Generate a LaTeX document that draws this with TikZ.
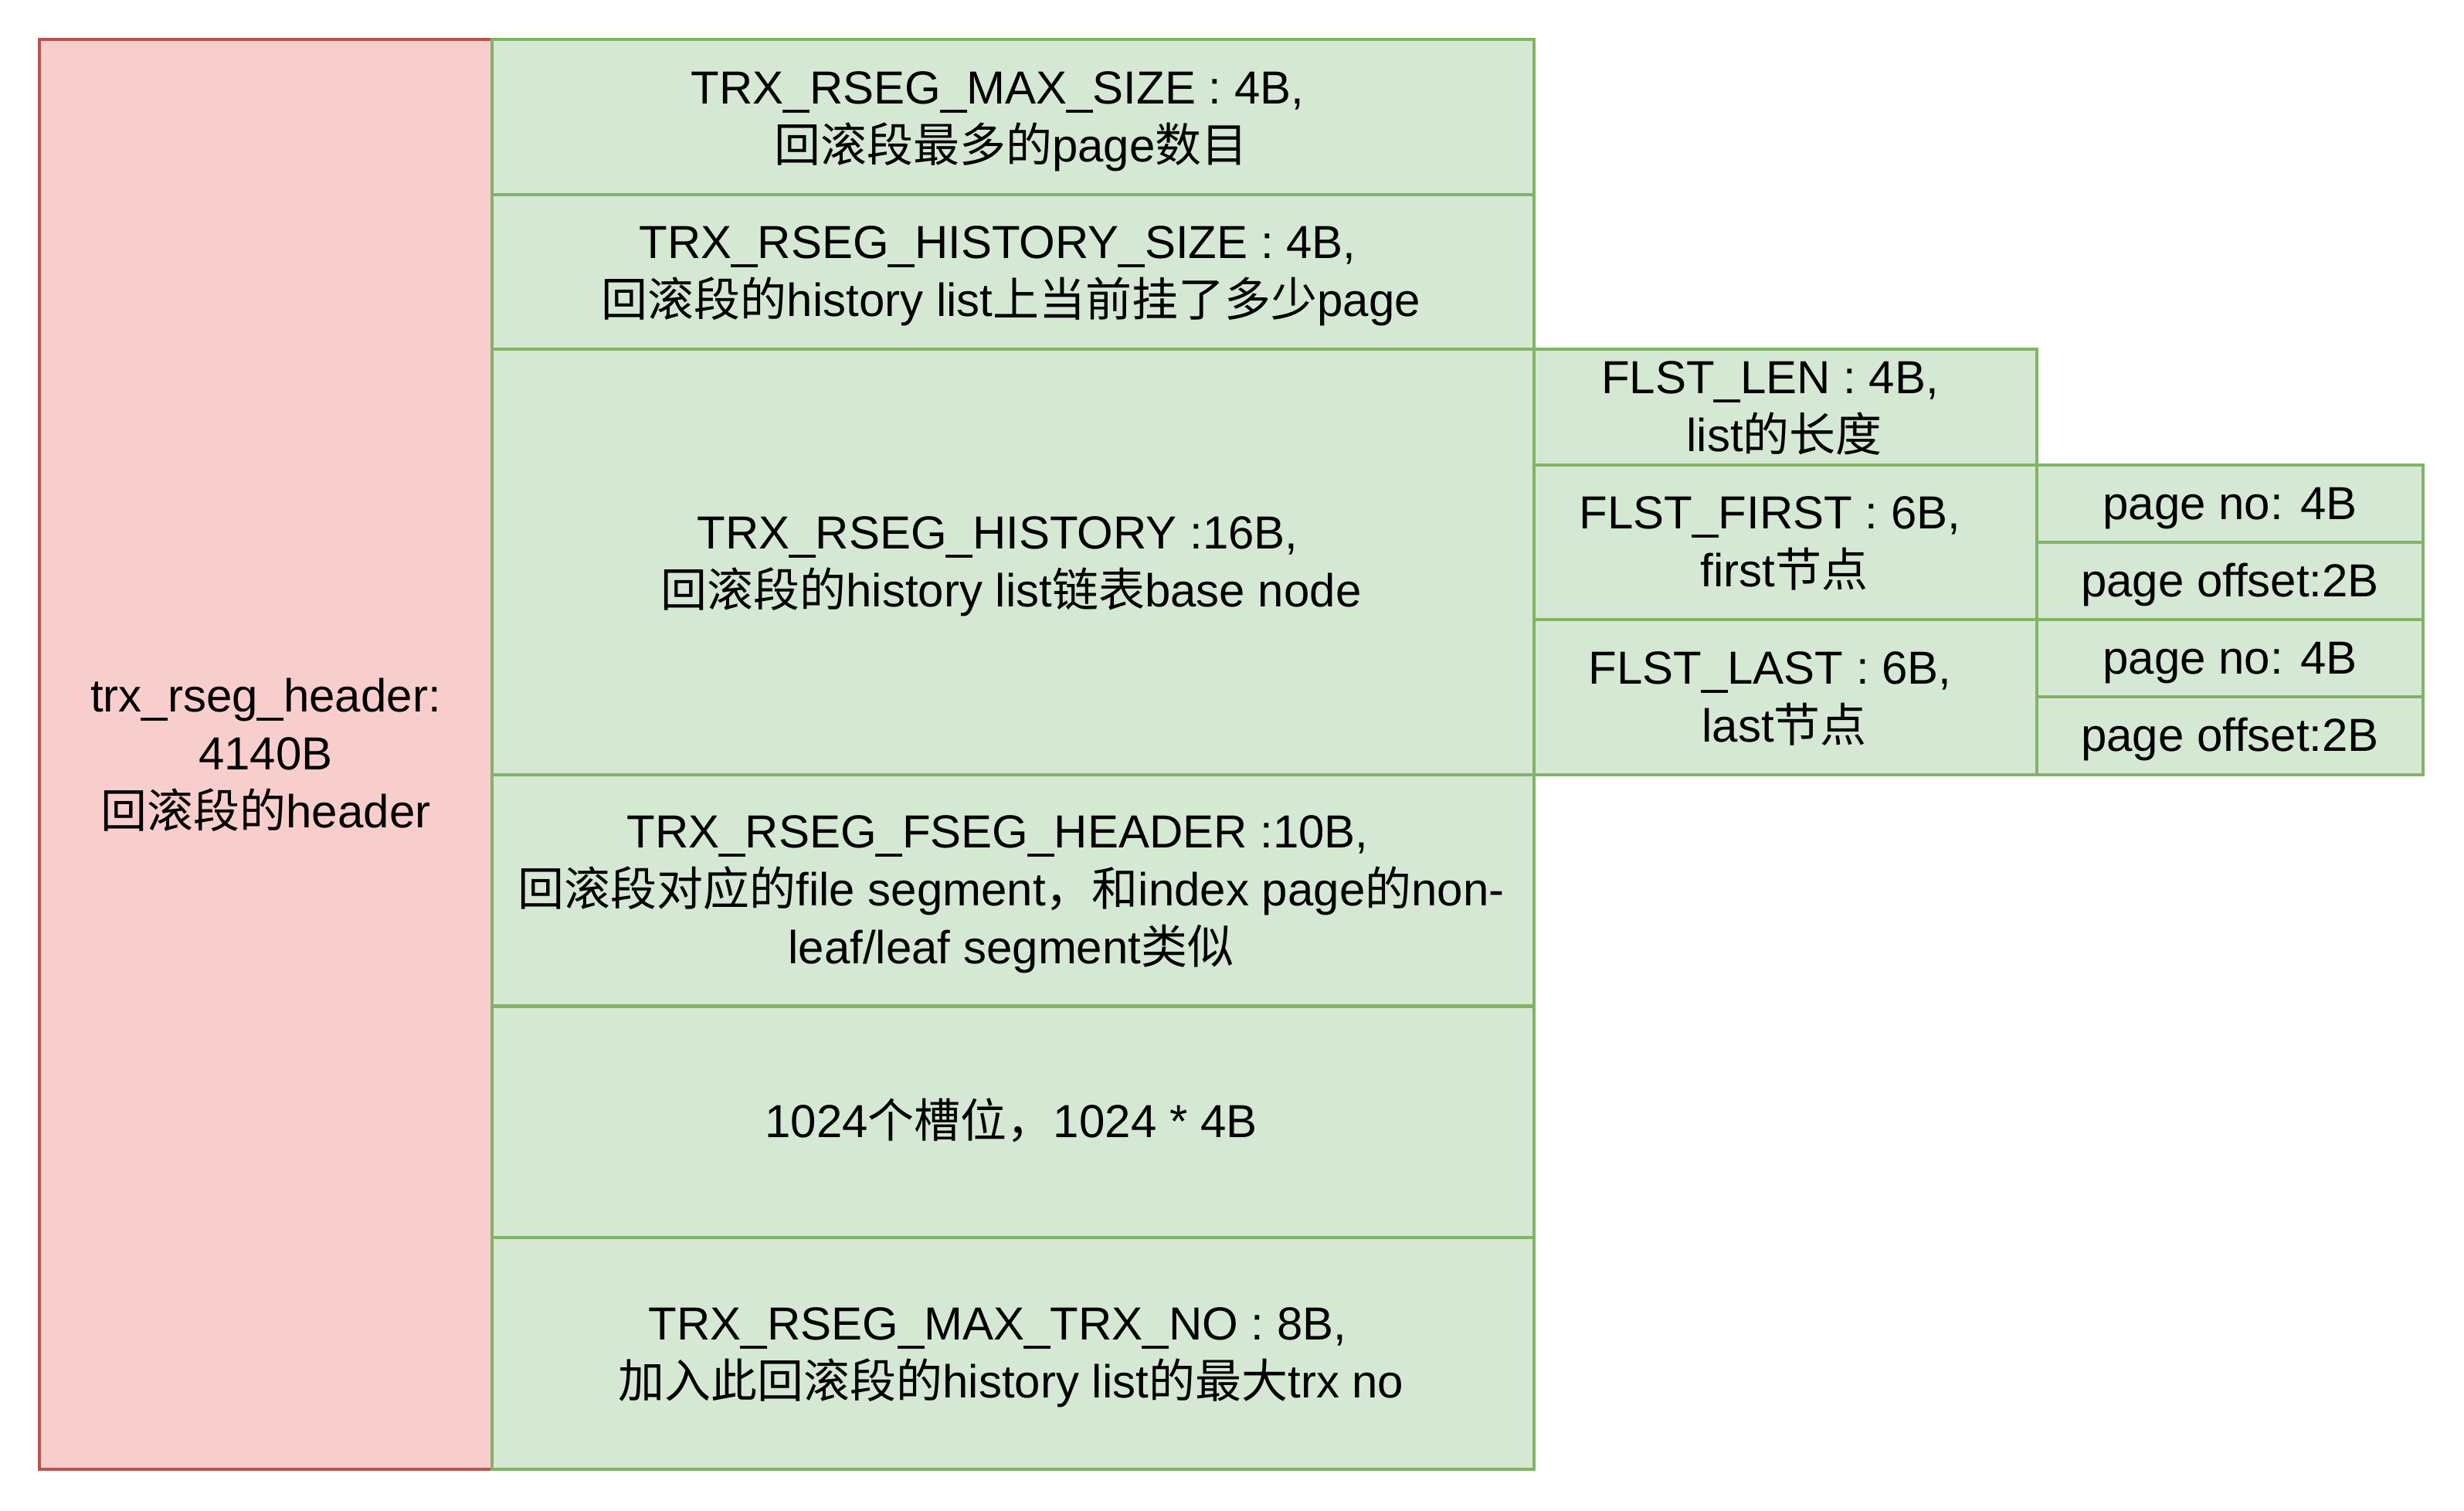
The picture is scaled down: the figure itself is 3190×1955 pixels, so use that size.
\documentclass[tikz,border=0pt]{standalone}
\usepackage{fontspec}
\setmainfont{Liberation Sans}
\newfontfamily\cjk{Noto Sans CJK SC}
\definecolor{redfill}{HTML}{F8CECC}
\definecolor{redline}{HTML}{B85450}
\definecolor{greenfill}{HTML}{D5E8D4}
\definecolor{greenline}{HTML}{82B366}
\begin{document}
\begin{tikzpicture}[x=0.5pt,y=-0.5pt,
  cell/.style={rectangle, inner sep=0pt, line width=2.2pt},
  redcell/.style={cell, draw=redline, fill=redfill},
  greencell/.style={cell, draw=greenline, fill=greenfill},
  txt/.style={anchor=base, inner sep=0pt, text=black, font=\fontsize{30pt}{37.5pt}\selectfont}]
\useasboundingbox (0,0) rectangle (3190,1955);
% cells
\node[redcell, minimum width=293pt, minimum height=925.5pt] (hdr) at (344,976.5) {};
\node[greencell, minimum width=674.5pt, minimum height=100.5pt] (maxsize) at (1311.5,151.5) {};
\node[greencell, minimum width=674.5pt, minimum height=100pt] (hsize) at (1311.5,352) {};
\node[greencell, minimum width=674.5pt, minimum height=275.5pt] (hist) at (1311.5,727.5) {};
\node[greencell, minimum width=674.5pt, minimum height=149.5pt] (fseg) at (1311.5,1152.5) {};
\node[greencell, minimum width=674.5pt, minimum height=149.75pt] (slots) at (1311.5,1452.25) {};
\node[greencell, minimum width=674.5pt, minimum height=150pt] (maxtrx) at (1311.5,1752) {};
\node[greencell, minimum width=325.5pt, minimum height=75pt] (flen) at (2311.5,527) {};
\node[greencell, minimum width=325.5pt, minimum height=100pt] (ffirst) at (2311.5,702) {};
\node[greencell, minimum width=325.5pt, minimum height=100.5pt] (flast) at (2311.5,902.5) {};
\node[greencell, minimum width=250pt, minimum height=50pt] (fpno) at (2887,652) {};
\node[greencell, minimum width=250pt, minimum height=50pt] (fpoff) at (2887,752) {};
\node[greencell, minimum width=250pt, minimum height=50pt] (lpno) at (2887,852) {};
\node[greencell, minimum width=250pt, minimum height=50.5pt] (lpoff) at (2887,952.5) {};
% texts
\node[txt] (hdr-a) at (344,921.5) {trx\_rseg\_header:};
\node[txt] (hdr-b) at (344,996.5) {4140B};
\node[txt] (hdr-c) at (344,1071.5) {{\cjk 回滚段的}header};
\node[txt] (maxsize-a) at (1291.5,134) {TRX\_RSEG\_MAX\_SIZE : 4B,};
\node[txt] (maxsize-b) at (1309,209) {{\cjk 回滚段最多的}page{\cjk 数目}};
\node[txt] (hsize-a) at (1291.5,334.5) {TRX\_RSEG\_HISTORY\_SIZE : 4B,};
\node[txt] (hsize-b) at (1309,409.5) {{\cjk 回滚段的}history list{\cjk 上当前挂了多少}page};
\node[txt] (hist-a) at (1291.5,710) {TRX\_RSEG\_HISTORY :16B,};
\node[txt] (hist-b) at (1309,785) {{\cjk 回滚段的}history list{\cjk 链表}base node};
\node[txt] (fseg-a) at (1291.5,1097.5) {TRX\_RSEG\_FSEG\_HEADER :10B,};
\node[txt] (fseg-b) at (1309,1172.5) {{\cjk 回滚段对应的}file segment{\cjk ，和}index page{\cjk 的}non-};
\node[txt] (fseg-c) at (1309,1247.5) {leaf/leaf segment{\cjk 类似}};
\node[txt] (slots-a) at (1309,1472) {1024{\cjk 个槽位，}1024 * 4B};
\node[txt] (maxtrx-a) at (1291.5,1734.5) {TRX\_RSEG\_MAX\_TRX\_NO : 8B,};
\node[txt] (maxtrx-b) at (1309,1809.5) {{\cjk 加入此回滚段的}history list{\cjk 的最大}trx no};
\node[txt] (flen-a) at (2291.5,509.5) {FLST\_LEN : 4B,};
\node[txt] (flen-b) at (2310,584.5) {list{\cjk 的长度}};
\node[txt] (ffirst-a) at (2291.5,684.5) {FLST\_FIRST : 6B,};
\node[txt] (ffirst-b) at (2310,759.5) {first{\cjk 节点}};
\node[txt] (flast-a) at (2291.5,885) {FLST\_LAST : 6B,};
\node[txt] (flast-b) at (2310,960) {last{\cjk 节点}};
\node[txt] (fpno-a) at (2887,672) {page no: 4B};
\node[txt] (fpoff-a) at (2887,772) {page offset:2B};
\node[txt] (lpno-a) at (2887,872) {page no: 4B};
\node[txt] (lpoff-a) at (2887,972.5) {page offset:2B};
\end{tikzpicture}
\end{document}
